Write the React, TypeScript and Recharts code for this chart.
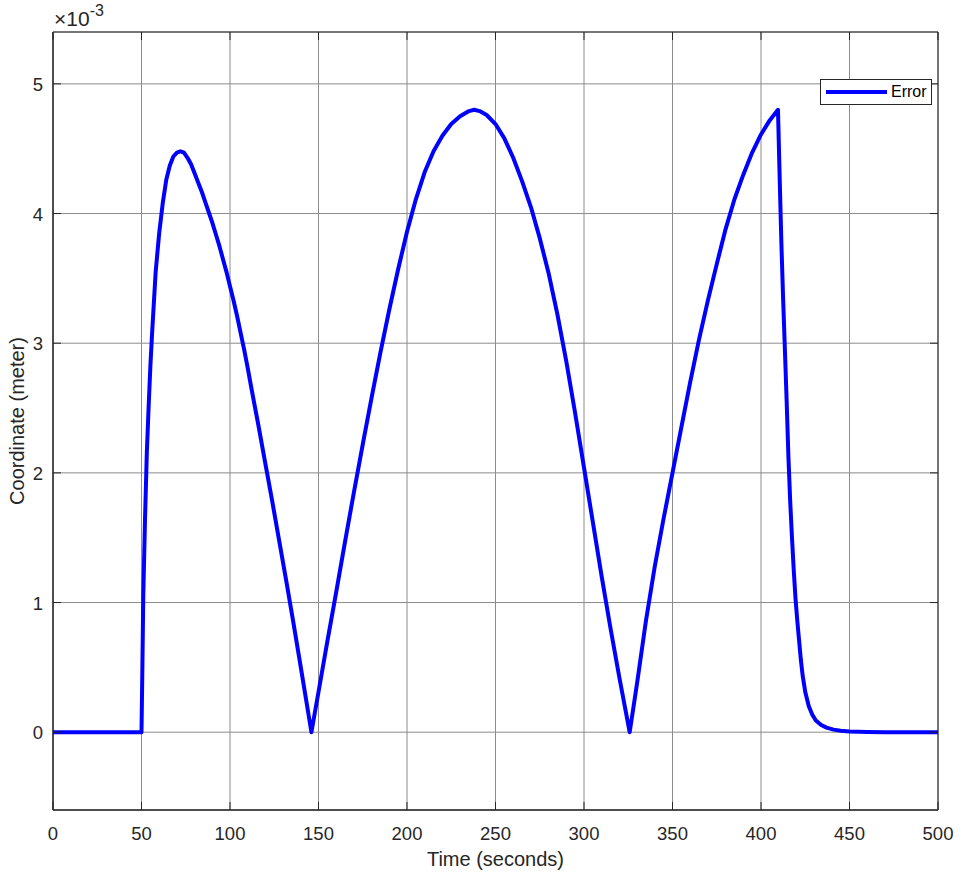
import {
  LineChart,
  Line,
  XAxis,
  YAxis,
  CartesianGrid,
  Legend,
  ReferenceArea,
} from 'recharts';

// time in seconds, error in units of 1e-3 m (axis shows the x10^-3 factor)
const time = [
  0, 50, 50.5, 51, 52, 53, 54, 55, 56, 58, 60, 62, 64, 66, 68, 70, 72,
  74, 76, 78, 80, 82, 84, 86, 88, 90, 92, 94, 96, 98, 100, 102, 104, 106, 108, 110,
  112, 116, 120, 124, 128, 132, 136, 140, 143, 146,
  150, 155, 160, 165, 170, 175, 180, 185, 190, 195, 200, 205, 210, 215, 220, 225, 230,
  235, 238, 241, 245, 250, 255, 260, 265, 270, 275, 280, 285, 290, 295, 300, 305, 310,
  315, 320, 325.8,
  330, 335, 340, 345, 350, 355, 360, 365, 370, 375, 380, 385, 390, 395, 400, 405, 409.6,
  410.5, 411.5, 412.5, 413.5, 414.5, 415.5, 416.5, 417.5, 418.5, 419.5, 420.5, 421.5,
  422.5, 423.5, 425, 427, 429, 431, 434, 437, 441, 445, 450, 460, 470, 500,
];
const errorMilli = [
  0, 0, 0.5, 1.05, 1.65, 2.15, 2.5, 2.82, 3.08, 3.55, 3.85, 4.08, 4.26, 4.37, 4.44, 4.47, 4.48,
  4.47, 4.43, 4.38, 4.31, 4.24, 4.17, 4.09, 4.01, 3.93, 3.84, 3.75, 3.65, 3.55, 3.44, 3.33,
  3.21, 3.08, 2.95, 2.81,
  2.66, 2.37, 2.07, 1.77, 1.46, 1.15, 0.83, 0.5, 0.25, 0,
  0.31, 0.7, 1.08, 1.47, 1.85, 2.22, 2.58, 2.93, 3.26, 3.57, 3.86, 4.11, 4.32, 4.48, 4.6,
  4.69, 4.75, 4.79, 4.8, 4.79, 4.76, 4.69, 4.58, 4.43, 4.25, 4.05, 3.81, 3.54, 3.22, 2.86,
  2.46, 2.04, 1.62, 1.2, 0.8, 0.42, 0,
  0.38, 0.86, 1.28, 1.65, 2.0, 2.35, 2.7, 3.03, 3.33, 3.61, 3.88, 4.11, 4.3, 4.47, 4.61,
  4.72, 4.8,
  4.3, 3.78, 3.34, 2.95, 2.55, 2.12, 1.78, 1.5, 1.25, 1.03, 0.86, 0.71, 0.56, 0.44, 0.31,
  0.2, 0.135, 0.09, 0.055, 0.035, 0.02, 0.011, 0.005, 0.001, 0, 0,
];
const xTicks = [0, 50, 100, 150, 200, 250, 300, 350, 400, 450, 500];
const yTicks = [0, 1, 2, 3, 4, 5];
const xDomain = [0, 500];
const yDomain = [-0.6, 5.4];

const data = time.map((t, i) => ({ t, e: errorMilli[i] }));

const FONT = '"Liberation Sans", Arial, Helvetica, sans-serif';
const AXIS = '#262626';
const GRID = '#8c8c8c';
const PLOT = { left: 53, top: 32, right: 938, bottom: 810 };

/* eslint-disable @typescript-eslint/no-explicit-any */
function XTick(props: any) {
  const { x, y, payload } = props;
  return (
    <g>
      <line x1={x} x2={x} y1={PLOT.bottom} y2={PLOT.bottom - 8} stroke={AXIS} />
      <line x1={x} x2={x} y1={PLOT.top} y2={PLOT.top + 8} stroke={AXIS} />
      <text x={x} y={y + 30} textAnchor="middle" fontSize={18.5} fontFamily={FONT} fill={AXIS}>
        {payload.value}
      </text>
    </g>
  );
}

function YTick(props: any) {
  const { x, y, payload } = props;
  return (
    <g>
      <line x1={PLOT.left} x2={PLOT.left + 8} y1={y} y2={y} stroke={AXIS} />
      <line x1={PLOT.right - 8} x2={PLOT.right} y1={y} y2={y} stroke={AXIS} />
      <text x={x} y={y + 7} textAnchor="end" fontSize={18.5} fontFamily={FONT} fill={AXIS}>
        {payload.value}
      </text>
    </g>
  );
}

function YLabel(props: any) {
  const { x, y, width, height } = props.viewBox;
  return (
    <g fontFamily={FONT} fill={AXIS}>
      <text
        transform={`translate(${x + 17}, ${y + height / 2}) rotate(-90)`}
        textAnchor="middle"
        dominantBaseline="central"
        fontSize={20}
      >
        Coordinate (meter)
      </text>
      <text x={x + width + 1} y={y - 6} fontSize={21}>
        ×10
        <tspan dy={-10} fontSize={16}>
          -3
        </tspan>
      </text>
    </g>
  );
}

function XLabel(props: any) {
  const { x, y, width } = props.viewBox;
  return (
    <text x={x + width / 2} y={y + 56} textAnchor="middle" fontSize={20} fontFamily={FONT} fill={AXIS}>
      Time (seconds)
    </text>
  );
}

function LegendBox() {
  return (
    <div
      style={{
        width: 110,
        height: 24,
        border: `1px solid ${AXIS}`,
        background: '#fff',
        display: 'flex',
        alignItems: 'center',
        fontFamily: FONT,
        fontSize: 16,
        color: '#000',
      }}
    >
      <svg width={66} height={10} style={{ marginLeft: 4 }}>
        <line x1={1} x2={62} y1={5} y2={5} stroke="#0000ff" strokeWidth={4} />
      </svg>
      <span>Error</span>
    </div>
  );
}

export default function App() {
  return (
    <div style={{ position: 'absolute', left: 0, top: 0, width: 962, height: 876, background: '#fff' }}>
      <LineChart
        width={962}
        height={876}
        data={data}
        margin={{ top: PLOT.top, right: 962 - PLOT.right, bottom: 0, left: 0 }}
      >
        <CartesianGrid stroke={GRID} strokeWidth={1} />
        <XAxis
          dataKey="t"
          type="number"
          domain={xDomain}
          ticks={xTicks}
          allowDataOverflow
          height={876 - PLOT.bottom}
          tickSize={0}
          tickMargin={0}
          tick={XTick}
          axisLine={{ stroke: AXIS }}
          label={{ content: XLabel }}
        />
        <YAxis
          type="number"
          domain={yDomain}
          ticks={yTicks}
          allowDataOverflow
          width={PLOT.left}
          tickSize={0}
          tickMargin={10}
          tick={YTick}
          axisLine={{ stroke: AXIS }}
          label={{ content: YLabel }}
        />
        <ReferenceArea
          x1={xDomain[0]}
          x2={xDomain[1]}
          y1={yDomain[0]}
          y2={yDomain[1]}
          fill="none"
          stroke={AXIS}
          strokeWidth={1}
        />
        <Line
          type="linear"
          dataKey="e"
          name="Error"
          stroke="#0000ff"
          strokeWidth={4}
          strokeLinejoin="round"
          dot={false}
          isAnimationActive={false}
        />
        <Legend
          layout="horizontal"
          verticalAlign="middle"
          align="center"
          content={LegendBox}
          wrapperStyle={{ top: 79, left: 820, width: 'auto' }}
        />
      </LineChart>
    </div>
  );
}
